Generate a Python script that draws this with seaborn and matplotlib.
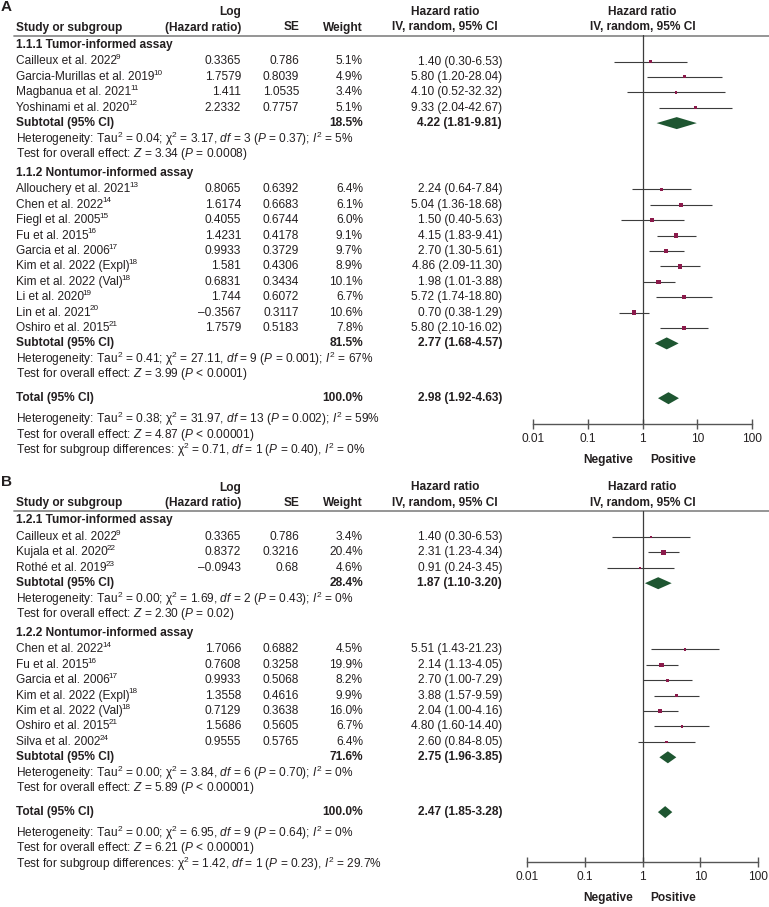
import matplotlib
matplotlib.use('Agg')
import matplotlib.pyplot as plt
from matplotlib.ticker import NullLocator
import seaborn as sns

# ---------------- Panel A ----------------
A_groups = ['1.1.1 Tumor-informed assay', '1.1.2 Nontumor-informed assay']

A1_study = ['Cailleux et al. 2022', 'Garcia-Murillas et al. 2019', 'Magbanua et al. 2021', 'Yoshinami et al. 2020']
A1_ref = [9, 10, 11, 12]
A1_loghr = [0.3365, 1.7579, 1.411, 2.2332]
A1_se = [0.786, 0.8039, 1.0535, 0.7757]
A1_weight = [5.1, 4.9, 3.4, 5.1]
A1_hr = [1.40, 5.80, 4.10, 9.33]
A1_lo = [0.30, 1.20, 0.52, 2.04]
A1_hi = [6.53, 28.04, 32.32, 42.67]

A2_study = ['Allouchery et al. 2021', 'Chen et al. 2022', 'Fiegl et al. 2005', 'Fu et al. 2015',
            'Garcia et al. 2006', 'Kim et al. 2022 (Expl)', 'Kim et al. 2022 (Val)', 'Li et al. 2020',
            'Lin et al. 2021', 'Oshiro et al. 2015']
A2_ref = [13, 14, 15, 16, 17, 18, 18, 19, 20, 21]
A2_loghr = [0.8065, 1.6174, 0.4055, 1.4231, 0.9933, 1.581, 0.6831, 1.744, -0.3567, 1.7579]
A2_se = [0.6392, 0.6683, 0.6744, 0.4178, 0.3729, 0.4306, 0.3434, 0.6072, 0.3117, 0.5183]
A2_weight = [6.4, 6.1, 6.0, 9.1, 9.7, 8.9, 10.1, 6.7, 10.6, 7.8]
A2_hr = [2.24, 5.04, 1.50, 4.15, 2.70, 4.86, 1.98, 5.72, 0.70, 5.80]
A2_lo = [0.64, 1.36, 0.40, 1.83, 1.30, 2.09, 1.01, 1.74, 0.38, 2.10]
A2_hi = [7.84, 18.68, 5.63, 9.41, 5.61, 11.30, 3.88, 18.80, 1.29, 16.02]

A_sub_weight = [18.5, 81.5]
A_sub_hr = [4.22, 2.77]
A_sub_lo = [1.81, 1.68]
A_sub_hi = [9.81, 4.57]
A_sub_het = [r'Heterogeneity: Tau$^{2}$ = 0.04; χ$^{2}$ = 3.17, $\mathit{df}$ = 3 ($\mathit{P}$ = 0.37); $\mathit{I}^{2}$ = 5%',
             r'Heterogeneity: Tau$^{2}$ = 0.41; χ$^{2}$ = 27.11, $\mathit{df}$ = 9 ($\mathit{P}$ = 0.001); $\mathit{I}^{2}$ = 67%']
A_sub_test = [r'Test for overall effect: $\mathit{Z}$ = 3.34 ($\mathit{P}$ = 0.0008)',
              r'Test for overall effect: $\mathit{Z}$ = 3.99 ($\mathit{P}$ < 0.0001)']
A_total = [100.0, 2.98, 1.92, 4.63]
A_notes = [r'Heterogeneity: Tau$^{2}$ = 0.38; χ$^{2}$ = 31.97, $\mathit{df}$ = 13 ($\mathit{P}$ = 0.002); $\mathit{I}^{2}$ = 59%',
           r'Test for overall effect: $\mathit{Z}$ = 4.87 ($\mathit{P}$ < 0.00001)',
           r'Test for subgroup differences: χ$^{2}$ = 0.71, $\mathit{df}$ = 1 ($\mathit{P}$ = 0.40), $\mathit{I}^{2}$ = 0%']

# ---------------- Panel B ----------------
B_groups = ['1.2.1 Tumor-informed assay', '1.2.2 Nontumor-informed assay']

B1_study = ['Cailleux et al. 2022', 'Kujala et al. 2020', 'Rothé et al. 2019']
B1_ref = [9, 22, 23]
B1_loghr = [0.3365, 0.8372, -0.0943]
B1_se = [0.786, 0.3216, 0.68]
B1_weight = [3.4, 20.4, 4.6]
B1_hr = [1.40, 2.31, 0.91]
B1_lo = [0.30, 1.23, 0.24]
B1_hi = [6.53, 4.34, 3.45]

B2_study = ['Chen et al. 2022', 'Fu et al. 2015', 'Garcia et al. 2006', 'Kim et al. 2022 (Expl)',
            'Kim et al. 2022 (Val)', 'Oshiro et al. 2015', 'Silva et al. 2002']
B2_ref = [14, 16, 17, 18, 18, 21, 24]
B2_loghr = [1.7066, 0.7608, 0.9933, 1.3558, 0.7129, 1.5686, 0.9555]
B2_se = [0.6882, 0.3258, 0.5068, 0.4616, 0.3638, 0.5605, 0.5765]
B2_weight = [4.5, 19.9, 8.2, 9.9, 16.0, 6.7, 6.4]
B2_hr = [5.51, 2.14, 2.70, 3.88, 2.04, 4.80, 2.60]
B2_lo = [1.43, 1.13, 1.00, 1.57, 1.00, 1.60, 0.84]
B2_hi = [21.23, 4.05, 7.29, 9.59, 4.16, 14.40, 8.05]

B_sub_weight = [28.4, 71.6]
B_sub_hr = [1.87, 2.75]
B_sub_lo = [1.10, 1.96]
B_sub_hi = [3.20, 3.85]
B_sub_het = [r'Heterogeneity: Tau$^{2}$ = 0.00; χ$^{2}$ = 1.69, $\mathit{df}$ = 2 ($\mathit{P}$ = 0.43); $\mathit{I}^{2}$ = 0%',
             r'Heterogeneity: Tau$^{2}$ = 0.00; χ$^{2}$ = 3.84, $\mathit{df}$ = 6 ($\mathit{P}$ = 0.70); $\mathit{I}^{2}$ = 0%']
B_sub_test = [r'Test for overall effect: $\mathit{Z}$ = 2.30 ($\mathit{P}$ = 0.02)',
              r'Test for overall effect: $\mathit{Z}$ = 5.89 ($\mathit{P}$ < 0.00001)']
B_total = [100.0, 2.47, 1.85, 3.28]
B_notes = [r'Heterogeneity: Tau$^{2}$ = 0.00; χ$^{2}$ = 6.95, $\mathit{df}$ = 9 ($\mathit{P}$ = 0.64); $\mathit{I}^{2}$ = 0%',
           r'Test for overall effect: $\mathit{Z}$ = 6.21 ($\mathit{P}$ < 0.00001)',
           r'Test for subgroup differences: χ$^{2}$ = 1.42, $\mathit{df}$ = 1 ($\mathit{P}$ = 0.23), $\mathit{I}^{2}$ = 29.7%']

axis_ticks = [0.01, 0.1, 1, 10, 100]
axis_labels = ['0.01', '0.1', '1', '10', '100']

# ---------------- style ----------------
sns.set_theme(style='white')
plt.rcParams['font.family'] = ['Liberation Sans', 'DejaVu Sans']
plt.rcParams['mathtext.fontset'] = 'custom'
plt.rcParams['mathtext.rm'] = 'Liberation Sans'
plt.rcParams['mathtext.it'] = 'Liberation Sans:italic'
plt.rcParams['mathtext.bf'] = 'Liberation Sans:bold'

W, H = 769, 907
TXT = '#231f20'
FS = 8.6
SQ = '#8b1a4b'
DIA = '#1e5631'
LINE = '#3c3c3c'
STEP = 15.4

fig = plt.figure(figsize=(W / 100, H / 100), dpi=100)
bg = fig.add_axes([0, 0, 1, 1])
bg.set_xlim(0, W)
bg.set_ylim(H, 0)
bg.axis('off')
renderer = fig.canvas.get_renderer()

x_name, x_log, x_se, x_w, x_hr, x_hrhead = 16, 241, 299, 363, 502, 445


def fmt_num(v):
    return f'{v:g}'.replace('-', '–')


def fmt_ci(hr, lo, hi):
    return f'{hr:.2f} ({lo:.2f}-{hi:.2f})'


def txt(x, y, s, ha='left', bold=False, size=FS):
    return bg.text(x, y, s, ha=ha, va='center', fontsize=size, color=TXT,
                   fontweight='bold' if bold else 'normal')


def name_with_ref(x, y, name, ref):
    # study name, then the reference number as a small raised text
    t = txt(x, y, name)
    bb = t.get_window_extent(renderer)
    x_end = bg.transData.inverted().transform((bb.x1, bb.y0))[0]
    txt(x_end - 1.2, y - 3.8, str(ref), size=FS * 0.68)


def draw_panel(letter, y_top, axis_y, xa, xb, groups, studies, subs, total, notes):
    rule_y = y_top + 23.5
    x_one = (xa + xb) / 2

    txt(1, y_top - 5, letter, bold=True, size=11)
    txt(x_name, y_top + 15.5, 'Study or subgroup', bold=True)
    txt(x_log, y_top, 'Log', ha='right', bold=True)
    txt(x_log, y_top + 15.5, '(Hazard ratio)', ha='right', bold=True)
    txt(x_se, y_top + 15.5, 'SE', ha='right', bold=True)
    txt(x_w, y_top + 15.5, 'Weight', ha='right', bold=True)
    for xc in (x_hrhead, x_one):
        txt(xc, y_top, 'Hazard ratio', ha='center', bold=True)
        txt(xc, y_top + 15.5, 'IV, random, 95% CI', ha='center', bold=True)
    bg.plot([14, W], [rule_y, rule_y], color='#8c8c8c', lw=1.3)

    fa = fig.add_axes([xa / W, 1 - axis_y / H, (xb - xa) / W, (axis_y - rule_y) / H])
    fa.patch.set_alpha(0)
    fa.set_xscale('log')
    fa.set_xlim(axis_ticks[0], axis_ticks[-1])
    fa.set_ylim(axis_y, rule_y)

    all_hr, all_y, all_w, all_lo, all_hi = [], [], [], [], []
    diamonds = []
    y = y_top + 33
    for gi, title in enumerate(groups):
        names, refs, loghr, se, wt, hr, lo, hi = studies[gi]
        txt(x_name, y, title, bold=True)
        y += 16.5
        for k in range(len(names)):
            name_with_ref(x_name, y, names[k], refs[k])
            txt(x_log, y, fmt_num(loghr[k]), ha='right')
            txt(x_se, y, fmt_num(se[k]), ha='right')
            txt(x_w, y, f'{wt[k]:.1f}%', ha='right')
            txt(x_hr, y, fmt_ci(hr[k], lo[k], hi[k]), ha='right')
            all_hr.append(hr[k]); all_y.append(y); all_w.append(wt[k])
            all_lo.append(lo[k]); all_hi.append(hi[k])
            y += STEP
        sw, shr, slo, shi, shet, stest = subs
        txt(x_name, y, 'Subtotal (95% CI)', bold=True)
        txt(x_w, y, f'{sw[gi]:.1f}%', ha='right', bold=True)
        txt(x_hr, y, fmt_ci(shr[gi], slo[gi], shi[gi]), ha='right', bold=True)
        diamonds.append((shr[gi], slo[gi], shi[gi], y))
        y += STEP
        txt(x_name, y, shet[gi])
        y += STEP
        txt(x_name, y, stest[gi])
        y += 19
    y += 5
    tw, thr, tlo, thi = total
    txt(x_name, y, 'Total (95% CI)', bold=True)
    txt(x_w, y, f'{tw:.1f}%', ha='right', bold=True)
    txt(x_hr, y, fmt_ci(thr, tlo, thi), ha='right', bold=True)
    diamonds.append((thr, tlo, thi, y))
    y += 21
    for n in notes:
        txt(x_name, y, n)
        y += STEP

    # forest part
    fa.axvline(1, color=LINE, lw=0.9, zorder=1)
    fa.hlines(all_y, all_lo, all_hi, color=LINE, lw=0.8, zorder=2)
    wmax = max(all_w)
    sizes = [max(11 * w / wmax, 2.5) for w in all_w]
    sns.scatterplot(x=all_hr, y=all_y, s=sizes, marker='s', color=SQ,
                    linewidth=0, legend=False, ax=fa, zorder=3)
    for est, lo, hi, yy in diamonds:
        fa.fill([lo, est, hi, est], [yy, yy - 6, yy, yy + 6], color=DIA, lw=0, zorder=3)

    for side in ('top', 'left', 'right'):
        fa.spines[side].set_visible(False)
    fa.spines['bottom'].set_color('#555555')
    fa.spines['bottom'].set_linewidth(1.0)
    fa.set_xticks(axis_ticks)
    fa.set_xticklabels(axis_labels)
    fa.xaxis.set_minor_locator(NullLocator())
    fa.set_yticks([])
    fa.tick_params(axis='x', direction='inout', length=7, width=1.0, color='#555555',
                   labelsize=FS, labelcolor=TXT, pad=3, bottom=True)
    fa.set_xlabel('')
    fa.set_ylabel('')

    txt(x_one - 10, axis_y + 36, 'Negative', ha='right', bold=True)
    txt(x_one + 8, axis_y + 36, 'Positive', ha='left', bold=True)


draw_panel('A', 12, 424, 533, 752, A_groups,
           [(A1_study, A1_ref, A1_loghr, A1_se, A1_weight, A1_hr, A1_lo, A1_hi),
            (A2_study, A2_ref, A2_loghr, A2_se, A2_weight, A2_hr, A2_lo, A2_hi)],
           (A_sub_weight, A_sub_hr, A_sub_lo, A_sub_hi, A_sub_het, A_sub_test),
           A_total, A_notes)

draw_panel('B', 487.5, 862, 527, 758, B_groups,
           [(B1_study, B1_ref, B1_loghr, B1_se, B1_weight, B1_hr, B1_lo, B1_hi),
            (B2_study, B2_ref, B2_loghr, B2_se, B2_weight, B2_hr, B2_lo, B2_hi)],
           (B_sub_weight, B_sub_hr, B_sub_lo, B_sub_hi, B_sub_het, B_sub_test),
           B_total, B_notes)

fig.savefig('out.png', dpi=100)
